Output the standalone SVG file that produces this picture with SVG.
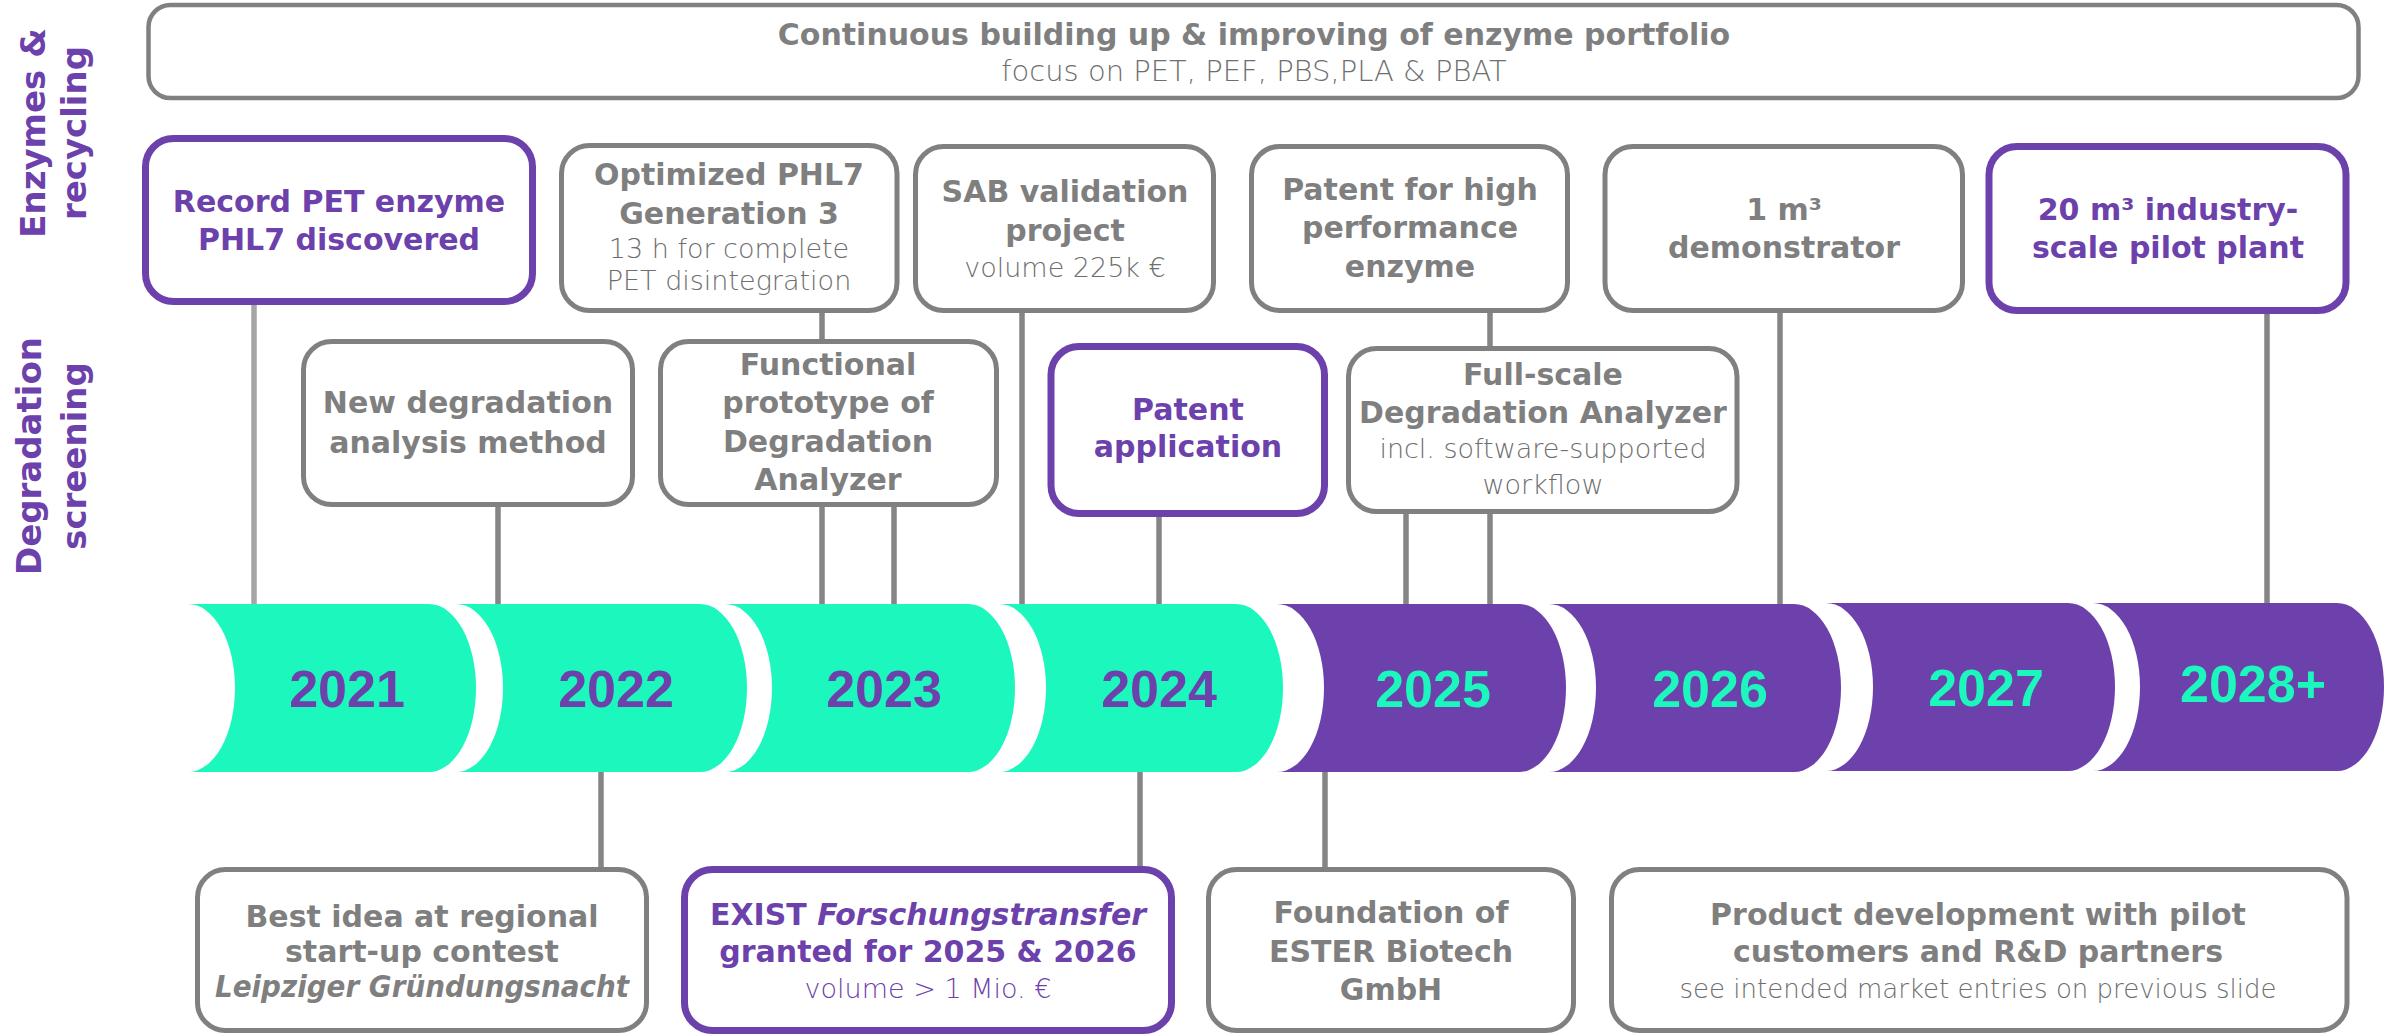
<svg xmlns="http://www.w3.org/2000/svg" width="2404" height="1035" viewBox="0 0 2404 1035">
  <defs>
    <style>
      .box { fill: #ffffff; stroke: #808080; stroke-width: 5; }
      .box.hl { stroke: #6c41ab; stroke-width: 7; }
      .t { font-family: "DejaVu Sans", "Liberation Sans", sans-serif; font-weight: bold; font-size: 30px; fill: #7f7f7f; text-anchor: middle; }
      .t.hl { fill: #6c41ab; }
      .sub { font-weight: 300; font-size: 27px; fill: #6e6e6e; }
      .t.hl.sub { fill: #6c41ab; }
      .it { font-style: italic; }
      .side { font-family: "DejaVu Sans", sans-serif; font-weight: bold; font-size: 34px; fill: #6c41ab; text-anchor: middle; }
      .conn line { stroke: #858585; stroke-width: 5.5; }
      .conn line.soft { stroke: #a6a6a6; }
      .green { fill: #1cf7bd; }
      .purple { fill: #6c41ab; }
      .yr { font-family: "Liberation Sans", Arial, sans-serif; font-weight: bold; font-size: 52px; text-anchor: middle; }
      .yr.onGreen { fill: #6c41ab; }
      .yr.onPurple { fill: #1cf7bd; }
    </style>
  </defs>

  <rect width="2404" height="1035" fill="#ffffff"/>

  <!-- row labels -->
  <g id="label-enzymes">
    <text class="side" transform="translate(45,133) rotate(-90)"><tspan x="0" y="0">Enzymes &amp;</tspan><tspan x="0" y="41">recycling</tspan></text>
  </g>
  <g id="label-degradation">
    <text class="side" transform="translate(41,456) rotate(-90)"><tspan x="0" y="0">Degradation</tspan><tspan x="0" y="45">screening</tspan></text>
  </g>

  <!-- vertical connectors between milestones and the timeline -->
  <g id="connectors" class="conn">
    <line class="soft" x1="254" y1="305" x2="254" y2="606"/>
    <line x1="498" y1="507" x2="498" y2="606"/>
    <line x1="822" y1="313" x2="822" y2="606"/>
    <line x1="894" y1="507" x2="894" y2="608"/>
    <line x1="1022" y1="313" x2="1022" y2="606"/>
    <line x1="1159" y1="517" x2="1159" y2="606"/>
    <line x1="1406" y1="514" x2="1406" y2="606"/>
    <line x1="1490" y1="313" x2="1490" y2="606"/>
    <line x1="1780" y1="313" x2="1780" y2="606"/>
    <line x1="2267" y1="314" x2="2267" y2="605"/>
    <line x1="601" y1="770" x2="601" y2="868"/>
    <line x1="1140" y1="770" x2="1140" y2="868"/>
    <line x1="1325" y1="770" x2="1325" y2="868"/>
  </g>

  <!-- timeline -->
  <g id="year-2021">
    <path class="green" d="M188,604 H429 A47,84 0 0 1 429,772 H188 A47,84 0 0 0 188,604 Z"/>
    <text class="yr onGreen" x="347" y="707">2021</text>
  </g>
  <g id="year-2022">
    <path class="green" d="M456,604 H700 A47,84 0 0 1 700,772 H456 A47,84 0 0 0 456,604 Z"/>
    <text class="yr onGreen" x="616" y="707">2022</text>
  </g>
  <g id="year-2023">
    <path class="green" d="M725,604 H968 A47,84 0 0 1 968,772 H725 A47,84 0 0 0 725,604 Z"/>
    <text class="yr onGreen" x="884" y="707">2023</text>
  </g>
  <g id="year-2024">
    <path class="green" d="M999,604 H1236 A47,84 0 0 1 1236,772 H999 A47,84 0 0 0 999,604 Z"/>
    <text class="yr onGreen" x="1159" y="707">2024</text>
  </g>
  <g id="year-2025">
    <path class="purple" d="M1277,604 H1519 A47,84 0 0 1 1519,772 H1277 A47,84 0 0 0 1277,604 Z"/>
    <text class="yr onPurple" x="1433" y="707">2025</text>
  </g>
  <g id="year-2026">
    <path class="purple" d="M1549,604 H1794 A47,84 0 0 1 1794,772 H1549 A47,84 0 0 0 1549,604 Z"/>
    <text class="yr onPurple" x="1710" y="707">2026</text>
  </g>
  <g id="year-2027">
    <path class="purple" d="M1826,603 H2068 A47,84 0 0 1 2068,771 H1826 A47,84 0 0 0 1826,603 Z"/>
    <text class="yr onPurple" x="1986" y="706">2027</text>
  </g>
  <g id="year-2028">
    <path class="purple" d="M2093,603 H2337 A47,84 0 0 1 2337,771 H2093 A47,84 0 0 0 2093,603 Z"/>
    <text class="yr onPurple" x="2253" y="702">2028+</text>
  </g>

  <!-- enzyme portfolio banner -->
  <g id="portfolio">
    <rect class="box" x="148.5" y="5" width="2210" height="93" rx="22" style="stroke-width:4.5"/>
    <text class="t" x="1254" y="45">Continuous building up &amp; improving of enzyme portfolio</text>
    <text class="t sub" x="1254" y="81" style="font-size:29px">focus on PET, PEF, PBS,PLA &amp; PBAT</text>
  </g>

  <!-- enzymes & recycling milestones -->
  <g id="record-enzyme">
    <rect class="box hl" x="145.5" y="138.5" width="387" height="163" rx="28"/>
    <text class="t hl" x="339" y="212">Record PET enzyme</text>
    <text class="t hl" x="339" y="250">PHL7 discovered</text>
  </g>
  <g id="phl7-gen3">
    <rect class="box" x="561.5" y="145.5" width="335.5" height="165" rx="28"/>
    <text class="t" x="729" y="185">Optimized PHL7</text>
    <text class="t" x="729" y="224">Generation 3</text>
    <text class="t sub" x="729" y="258">13 h for complete</text>
    <text class="t sub" x="729" y="290">PET disintegration</text>
  </g>
  <g id="sab-project">
    <rect class="box" x="915.5" y="146.5" width="298" height="164" rx="28"/>
    <text class="t" x="1065" y="202">SAB validation</text>
    <text class="t" x="1065" y="241">project</text>
    <text class="t sub" x="1065" y="277">volume 225k €</text>
  </g>
  <g id="enzyme-patent">
    <rect class="box" x="1251.5" y="146.5" width="316" height="164" rx="28"/>
    <text class="t" x="1410" y="200">Patent for high</text>
    <text class="t" x="1410" y="238">performance</text>
    <text class="t" x="1410" y="277">enzyme</text>
  </g>
  <g id="demonstrator">
    <rect class="box" x="1605" y="146.5" width="357.5" height="164" rx="28"/>
    <text class="t" x="1784" y="220">1 m³</text>
    <text class="t" x="1784" y="258">demonstrator</text>
  </g>
  <g id="pilot-plant">
    <rect class="box hl" x="1989" y="146.5" width="357" height="164" rx="28"/>
    <text class="t hl" x="2168" y="220">20 m³ industry-</text>
    <text class="t hl" x="2168" y="258">scale pilot plant</text>
  </g>

  <!-- degradation screening milestones -->
  <g id="analysis-method">
    <rect class="box" x="303.5" y="341.5" width="329" height="163" rx="28"/>
    <text class="t" x="468" y="413">New degradation</text>
    <text class="t" x="468" y="453">analysis method</text>
  </g>
  <g id="analyzer-prototype">
    <rect class="box" x="660.5" y="341.5" width="336" height="163" rx="28"/>
    <text class="t" x="828" y="375">Functional</text>
    <text class="t" x="828" y="413">prototype of</text>
    <text class="t" x="828" y="452">Degradation</text>
    <text class="t" x="828" y="490">Analyzer</text>
  </g>
  <g id="patent-application">
    <rect class="box hl" x="1051" y="346.5" width="273.5" height="167" rx="28"/>
    <text class="t hl" x="1188" y="420">Patent</text>
    <text class="t hl" x="1188" y="457">application</text>
  </g>
  <g id="full-scale-analyzer">
    <rect class="box" x="1348.5" y="348.5" width="388.5" height="163" rx="28"/>
    <text class="t" x="1543" y="385">Full-scale</text>
    <text class="t" x="1543" y="423">Degradation Analyzer</text>
    <text class="t sub" x="1543" y="458">incl. software-supported</text>
    <text class="t sub" x="1543" y="494">workflow</text>
  </g>

  <!-- company milestones below the timeline -->
  <g id="startup-contest">
    <rect class="box" x="197.5" y="869.5" width="449" height="161" rx="28"/>
    <text class="t" x="422" y="927">Best idea at regional</text>
    <text class="t" x="422" y="962">start-up contest</text>
    <text class="t it" x="422" y="997" textLength="414" lengthAdjust="spacingAndGlyphs">Leipziger Gründungsnacht</text>
  </g>
  <g id="exist-grant">
    <rect class="box hl" x="684.5" y="869.5" width="487" height="161" rx="28"/>
    <text class="t hl" x="928" y="925" textLength="436" lengthAdjust="spacingAndGlyphs">EXIST <tspan class="it">Forschungstransfer</tspan></text>
    <text class="t hl" x="928" y="962">granted for 2025 &amp; 2026</text>
    <text class="t hl sub" x="928" y="998">volume &gt; 1 Mio. €</text>
  </g>
  <g id="company-foundation">
    <rect class="box" x="1208.5" y="869.5" width="365" height="161" rx="28"/>
    <text class="t" x="1391" y="923">Foundation of</text>
    <text class="t" x="1391" y="962">ESTER Biotech</text>
    <text class="t" x="1391" y="1000">GmbH</text>
  </g>
  <g id="product-development">
    <rect class="box" x="1611.5" y="869.5" width="735.5" height="161" rx="28"/>
    <text class="t" x="1978" y="925">Product development with pilot</text>
    <text class="t" x="1978" y="962">customers and R&amp;D partners</text>
    <text class="t sub" x="1978" y="998" style="font-size:26px">see intended market entries on previous slide</text>
  </g>
</svg>
